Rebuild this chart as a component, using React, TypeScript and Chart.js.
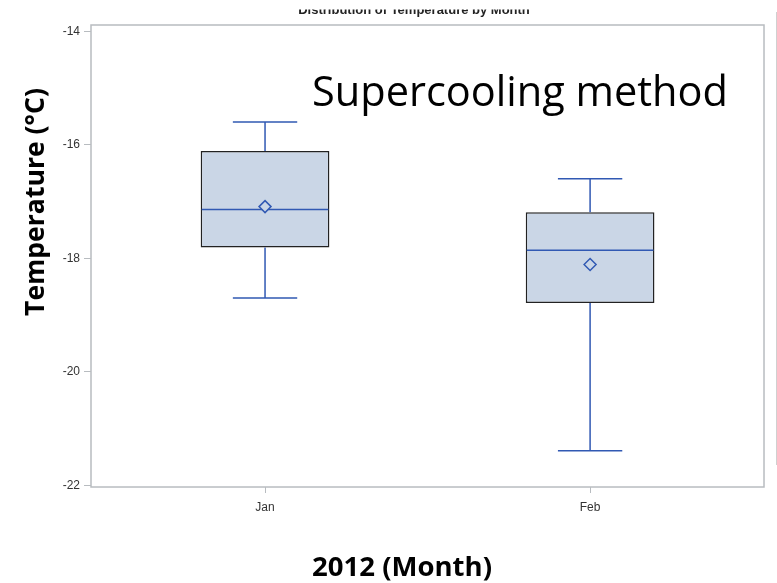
import { useEffect, useRef } from 'react';
import { Chart, registerables } from 'chart.js';

Chart.register(...registerables);

// ---- data ----
const MONTHS = ['Jan', 'Feb'];
const MONTH_POS = [1, 2];
const WHISKER_HIGH = [-15.6, -16.6];
const Q3 = [-16.11, -17.19];
const MEDIAN = [-17.14, -17.86];
const MEAN = [-17.09, -18.11];
const Q1 = [-17.81, -18.79];
const WHISKER_LOW = [-18.7, -21.39];
const Y_TICKS = [-22, -20, -18, -16, -14];

const TITLE = 'Distribution of Temperature by Month';
const NOTE = 'Supercooling method';
const Y_TITLE = 'Temperature (°C)';
const X_TITLE = '2012 (Month)';

// ---- styles ----
const BOX_FILL = '#CAD6E6';
const BOX_BORDER = '#222222';
const LINE_BLUE = '#3159B3';
const FRAME = '#B8BCC0';
const TICK_TEXT = '#333333';

function fitFont(ctx: CanvasRenderingContext2D, text: string, weight: string, family: string, target: number) {
  ctx.font = `${weight} 100px ${family}`;
  const w = ctx.measureText(text).width;
  return (100 * target) / w;
}

const boxPlugin = {
  id: 'boxParts',
  afterDatasetDraw(chart: any, args: any) {
    if (args.index !== 0) return;
    const ctx = chart.ctx as CanvasRenderingContext2D;
    const ys = chart.scales.y;
    const meta = chart.getDatasetMeta(0);
    ctx.save();
    ctx.strokeStyle = LINE_BLUE;
    ctx.lineWidth = 1.5;
    meta.data.forEach((bar: any, i: number) => {
      const x = bar.x;
      const w = bar.width;
      const yHi = ys.getPixelForValue(WHISKER_HIGH[i]);
      const yQ3 = ys.getPixelForValue(Q3[i]);
      const yMed = ys.getPixelForValue(MEDIAN[i]);
      const yQ1 = ys.getPixelForValue(Q1[i]);
      const yLo = ys.getPixelForValue(WHISKER_LOW[i]);
      ctx.beginPath();
      ctx.moveTo(x, yQ3);
      ctx.lineTo(x, yHi);
      ctx.moveTo(x - w / 4, yHi);
      ctx.lineTo(x + w / 4, yHi);
      ctx.moveTo(x, yQ1);
      ctx.lineTo(x, yLo);
      ctx.moveTo(x - w / 4, yLo);
      ctx.lineTo(x + w / 4, yLo);
      ctx.stroke();
      ctx.beginPath();
      ctx.moveTo(x - w / 2 + 1, yMed);
      ctx.lineTo(x + w / 2 - 1, yMed);
      ctx.stroke();
    });
    ctx.restore();
  },
};

const decorPlugin = {
  id: 'decor',
  beforeDatasetsDraw(chart: any) {
    const ctx = chart.ctx as CanvasRenderingContext2D;
    const a = chart.chartArea;
    ctx.save();
    ctx.strokeStyle = FRAME;
    ctx.lineWidth = 1.5;
    ctx.strokeRect(a.left, a.top, a.right - a.left, a.bottom - a.top);
    ctx.restore();
  },
  afterDraw(chart: any) {
    const ctx = chart.ctx as CanvasRenderingContext2D;
    ctx.save();
    // clipped title (only its lower part is visible in the source)
    ctx.save();
    ctx.beginPath();
    ctx.rect(0, 9.5, chart.width, 30);
    ctx.clip();
    ctx.fillStyle = '#222';
    ctx.font = 'bold 13px "Liberation Sans", Arial, sans-serif';
    ctx.textAlign = 'center';
    ctx.textBaseline = 'alphabetic';
    ctx.fillText(TITLE, 414, 13.5);
    ctx.restore();

    // note
    const noteSize = fitFont(ctx, NOTE, 'normal', '"Open Sans"', 416);
    ctx.font = `normal ${noteSize}px "Open Sans"`;
    ctx.fillStyle = '#000';
    ctx.textAlign = 'left';
    ctx.textBaseline = 'alphabetic';
    ctx.fillText(NOTE, 312, 106);

    // x title
    const xs = fitFont(ctx, X_TITLE, 'bold', '"Open Sans"', 180);
    ctx.font = `bold ${xs}px "Open Sans"`;
    ctx.textAlign = 'center';
    ctx.fillText(X_TITLE, 402, 576);

    // y title
    const ysz = fitFont(ctx, Y_TITLE, 'bold', '"Open Sans"', 228);
    ctx.font = `bold ${ysz}px "Open Sans"`;
    ctx.save();
    ctx.translate(44, 202);
    ctx.rotate(-Math.PI / 2);
    ctx.textAlign = 'center';
    ctx.fillText(Y_TITLE, 0, 0);
    ctx.restore();

    // right slide edge line
    ctx.strokeStyle = '#D0D0D0';
    ctx.lineWidth = 1;
    ctx.beginPath();
    ctx.moveTo(776.5, 12);
    ctx.lineTo(776.5, 465);
    ctx.stroke();
    ctx.restore();
  },
};

export default function App() {
  const ref = useRef<HTMLCanvasElement>(null);
  useEffect(() => {
    if (!ref.current) return;
    const chart = new Chart(ref.current, {
      type: 'bar',
      data: {
        datasets: [
          {
            type: 'bar',
            data: MONTH_POS.map((x, i) => ({ x, y: [Q1[i], Q3[i]] })) as any,
            backgroundColor: BOX_FILL,
            borderColor: BOX_BORDER,
            borderWidth: 1.5,
            borderSkipped: false,
            barPercentage: 0.396,
            categoryPercentage: 1,
            order: 2,
          } as any,
          {
            type: 'scatter',
            data: MONTH_POS.map((x, i) => ({ x, y: MEAN[i] })),
            pointStyle: 'rectRot',
            pointRadius: 6,
            pointBorderWidth: 1.5,
            borderColor: LINE_BLUE,
            backgroundColor: BOX_FILL,
            showLine: false,
            order: 1,
          } as any,
        ],
      },
      options: {
        animation: false,
        responsive: false,
        maintainAspectRatio: false,
        layout: { padding: { top: 25, right: 13, left: 0, bottom: 0 } },
        plugins: {
          legend: { display: false },
          tooltip: { enabled: false },
          title: { display: false },
        },
        scales: {
          x: {
            type: 'linear',
            min: 0.4646,
            max: 2.535,
            offset: false,
            grid: {
              display: true,
              drawOnChartArea: false,
              drawTicks: true,
              tickLength: 6,
              color: FRAME,
              offset: false,
            },
            border: { display: false },
            afterBuildTicks: (s: any) => {
              s.ticks = MONTH_POS.map((v) => ({ value: v }));
            },
            afterFit: (s: any) => {
              s.height = 96;
            },
            ticks: {
              autoSkip: false,
              maxRotation: 0,
              padding: 7,
              color: TICK_TEXT,
              font: { family: '"Liberation Sans", Arial, sans-serif', size: 12 },
              callback: (v: any) => {
                const k = MONTH_POS.indexOf(Number(v));
                return k >= 0 ? MONTHS[k] : '';
              },
            },
          } as any,
          y: {
            type: 'linear',
            min: -22.03,
            max: -13.89,
            grid: {
              display: true,
              drawOnChartArea: false,
              drawTicks: true,
              tickLength: 7,
              color: FRAME,
            },
            border: { display: false },
            afterBuildTicks: (s: any) => {
              s.ticks = Y_TICKS.map((v) => ({ value: v }));
            },
            afterFit: (s: any) => {
              s.width = 91;
            },
            ticks: {
              padding: 4,
              color: TICK_TEXT,
              font: { family: '"Liberation Sans", Arial, sans-serif', size: 12 },
              callback: (v: any) => String(v),
            },
          } as any,
        },
      },
      plugins: [boxPlugin, decorPlugin],
    });
    return () => chart.destroy();
  }, []);
  return (
    <div style={{ position: 'absolute', left: 0, top: 0, width: 777, height: 583, background: '#fff' }}>
      <canvas ref={ref} width={777} height={583} />
    </div>
  );
}
